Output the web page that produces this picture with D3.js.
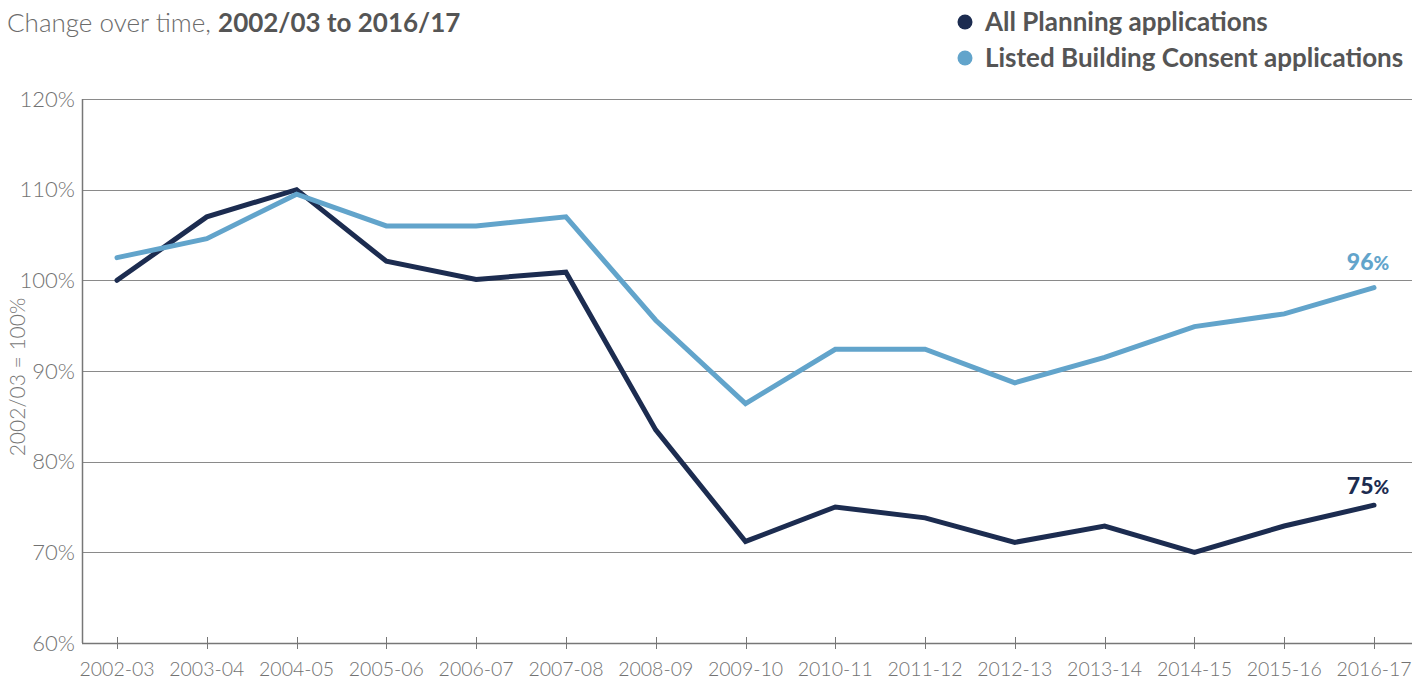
<!DOCTYPE html>
<html lang="en">
<head>
  <meta charset="UTF-8">
  <title>Change over time</title>
  <script src="https://d3js.org/d3.v7.min.js"></script>
  <style>
    body { margin: 0; background: #fff; font-family: Lato, "Open Sans", sans-serif; }
    svg { display: block; }
    .grid line { stroke: #8a8a8a; stroke-width: 1; }
    .tick-label { fill: #727272; font-weight: 300; font-size: 19.5px; }
  </style>
</head>
<body>
<div id="chart"></div>
<script>
  // Data
  const years = ["2002-03", "2003-04", "2004-05", "2005-06", "2006-07", "2007-08", "2008-09",
                 "2009-10", "2010-11", "2011-12", "2012-13", "2013-14", "2014-15", "2015-16", "2016-17"];
  const allPlanning = [100, 107.0, 110.0, 102.1, 100.1, 100.9, 83.5, 71.2, 75.0, 73.8, 71.1, 72.9, 70.0, 72.9, 75.2];
  const listedBuilding = [102.5, 104.6, 109.5, 106.0, 106.0, 107.0, 95.6, 86.4, 92.4, 92.4, 88.7, 91.5, 94.9, 96.3, 99.2];
  const yTicks = [60, 70, 80, 90, 100, 110, 120];
  const seriesNames = ["All Planning applications", "Listed Building Consent applications"];
  const endLabels = ["75%", "96%"];

  const width = 1427, height = 689;
  const colors = ["#1c2c50", "#62a4cb"];

  const svg = d3.select("#chart").append("svg")
    .attr("width", width)
    .attr("height", height);

  const x = d3.scalePoint().domain(years).range([117, 1374]);
  const y = d3.scaleLinear().domain([60, 120]).range([643, 99]);
  const plotLeft = 82, plotRight = 1412;

  // Title
  const title = svg.append("text")
    .attr("x", 7).attr("y", 32)
    .attr("font-size", 26);
  title.append("tspan").attr("fill", "#6b6b6b").attr("font-weight", 300).text("Change over time, ");
  title.append("tspan").attr("fill", "#555").attr("font-weight", 700).text("2002/03 to 2016/17");

  // Legend
  const legend = svg.append("g").selectAll("g")
    .data(seriesNames)
    .join("g")
    .attr("transform", (d, i) => `translate(965,${22 + i * 36})`);
  legend.append("circle").attr("r", 7.5).attr("fill", (d, i) => colors[i]);
  legend.append("text")
    .attr("x", 20).attr("dy", "0.35em")
    .attr("font-size", 26).attr("font-weight", 700).attr("fill", "#555")
    .text(d => d);

  // Gridlines
  svg.append("g").attr("class", "grid")
    .selectAll("line")
    .data(yTicks.filter(t => t > 60))
    .join("line")
    .attr("x1", plotLeft).attr("x2", plotRight)
    .attr("y1", d => Math.round(y(d)) + 0.5).attr("y2", d => Math.round(y(d)) + 0.5);

  // Y axis labels
  svg.append("g").selectAll("text")
    .data(yTicks)
    .join("text")
    .attr("class", "tick-label")
    .attr("font-size", 22).style("font-size", "22px")
    .attr("x", 75).attr("y", d => y(d)).attr("dy", "0.35em")
    .attr("text-anchor", "end")
    .text(d => d + "%");

  // Y axis line
  svg.append("line")
    .attr("x1", plotLeft + 0.5).attr("x2", plotLeft + 0.5)
    .attr("y1", y(120)).attr("y2", y(60))
    .attr("stroke", "#777").attr("stroke-width", 1.5);

  // Y axis title
  svg.append("text")
    .attr("transform", `translate(25,377) rotate(-90)`)
    .attr("text-anchor", "middle")
    .attr("fill", "#777").attr("font-weight", 300).attr("font-size", 21)
    .text("2002/03 = 100%");

  // X axis line and ticks
  svg.append("line")
    .attr("x1", plotLeft).attr("x2", plotRight)
    .attr("y1", y(60) + 0.5).attr("y2", y(60) + 0.5)
    .attr("stroke", "#777").attr("stroke-width", 1.5);
  svg.append("g").selectAll("line")
    .data(years)
    .join("line")
    .attr("x1", d => Math.round(x(d)) + 0.5).attr("x2", d => Math.round(x(d)) + 0.5)
    .attr("y1", y(60) - 6).attr("y2", y(60) + 6)
    .attr("stroke", "#777").attr("stroke-width", 1);
  svg.append("g").selectAll("text")
    .data(years)
    .join("text")
    .attr("class", "tick-label")
    .attr("x", d => x(d)).attr("y", 676)
    .attr("text-anchor", "middle")
    .text(d => d);

  // Lines
  const line = d3.line()
    .x((d, i) => x(years[i]))
    .y(d => y(d));

  [allPlanning, listedBuilding].forEach((vals, i) => {
    svg.append("path")
      .datum(vals)
      .attr("fill", "none")
      .attr("stroke", colors[i])
      .attr("stroke-width", 5)
      .attr("stroke-linejoin", "miter")
      .attr("stroke-linecap", "round")
      .attr("d", line);
  });

  // End labels
  const lastYear = years[years.length - 1];
  [allPlanning, listedBuilding].forEach((vals, i) => {
    const t = svg.append("text")
      .attr("x", x(lastYear) - 6)
      .attr("y", y(vals[vals.length - 1]) - (i === 0 ? 11 : 18))
      .attr("text-anchor", "middle")
      .attr("fill", colors[i])
      .attr("font-weight", 900)
      .attr("font-size", 23);
    t.append("tspan").text(endLabels[i].replace("%", ""));
    t.append("tspan").attr("font-size", 19).text("%");
  });
</script>
</body>
</html>
